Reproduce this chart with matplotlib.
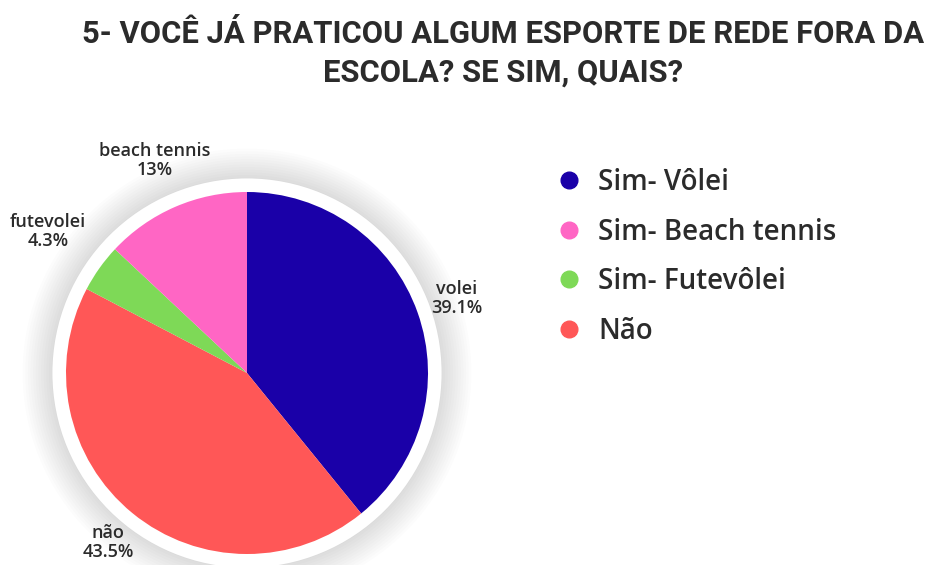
import numpy as np
import matplotlib
matplotlib.use("Agg")
import matplotlib.pyplot as plt
from matplotlib.patches import Circle
from matplotlib.lines import Line2D

TITLE = "5- VOCÊ JÁ PRATICOU ALGUM ESPORTE DE REDE FORA DA\nESCOLA? SE SIM, QUAIS?"
slice_names = ["volei", "não", "futevolei", "beach tennis"]
slice_pcts = [39.1, 43.5, 4.3, 13.0]
slice_pct_text = ["39.1%", "43.5%", "4.3%", "13%"]
slice_colors = ["#1a00a8", "#ff5757", "#7ed957", "#ff66c4"]
legend_names = ["Sim- Vôlei", "Sim- Beach tennis", "Sim- Futevôlei", "Não"]
legend_colors = ["#1a00a8", "#ff66c4", "#7ed957", "#ff5757"]
label_dist = [1.23, 1.21, 1.35, 1.28]

W, H = 938, 565
fig = plt.figure(figsize=(W / 100, H / 100), dpi=100)
fig.patch.set_facecolor("white")

# pie axes: centre (247, 373) px, radius 181 px
R = 181
half = 1.3
cx, cy = 247, H - 373
ax = fig.add_axes([(cx - half * R) / W, (cy - half * R) / H,
                   2 * half * R / W, 2 * half * R / H])
ax.set_xlim(-half, half)
ax.set_ylim(-half, half)
ax.set_aspect("equal")
ax.axis("off")

# soft grey shadow + white ring
for r in np.linspace(1.24, 1.08, 12):
    ax.add_patch(Circle((0, 0), r, color="#000000", alpha=0.013, lw=0))
ax.add_patch(Circle((0, 0), 1.075, color="white", lw=0))

wedges, _ = ax.pie(slice_pcts, colors=slice_colors, startangle=90,
                   counterclock=False, radius=1.0,
                   wedgeprops=dict(linewidth=0))
ax.set_xlim(-half, half)
ax.set_ylim(-half, half)

for w, name, pct, d in zip(wedges, slice_names, slice_pct_text, label_dist):
    ang = np.deg2rad((w.theta1 + w.theta2) / 2)
    ax.text(d * np.cos(ang), d * np.sin(ang), f"{name}\n{pct}",
            ha="center", va="center", fontsize=13, color="#2b2b2b",
            family="Open Sans", weight=600, linespacing=1.1)

fig.text(503 / W, 1 - 53 / H, TITLE, ha="center", va="center",
         fontsize=22.3, weight="bold", color="#2b2b2b",
         family="Roboto", linespacing=1.35)

handles = [Line2D([], [], marker="o", ls="", color=c, markersize=12)
           for c in legend_colors]
fig.legend(handles, legend_names, loc="upper left",
           bbox_to_anchor=(530 / W, 1 - 143 / H), frameon=False,
           prop=dict(family="Open Sans", size=20, weight=600),
           labelcolor="#2b2b2b", handletextpad=0.55, labelspacing=0.74,
           handlelength=1.0)

fig.savefig("out.png", dpi=100)
